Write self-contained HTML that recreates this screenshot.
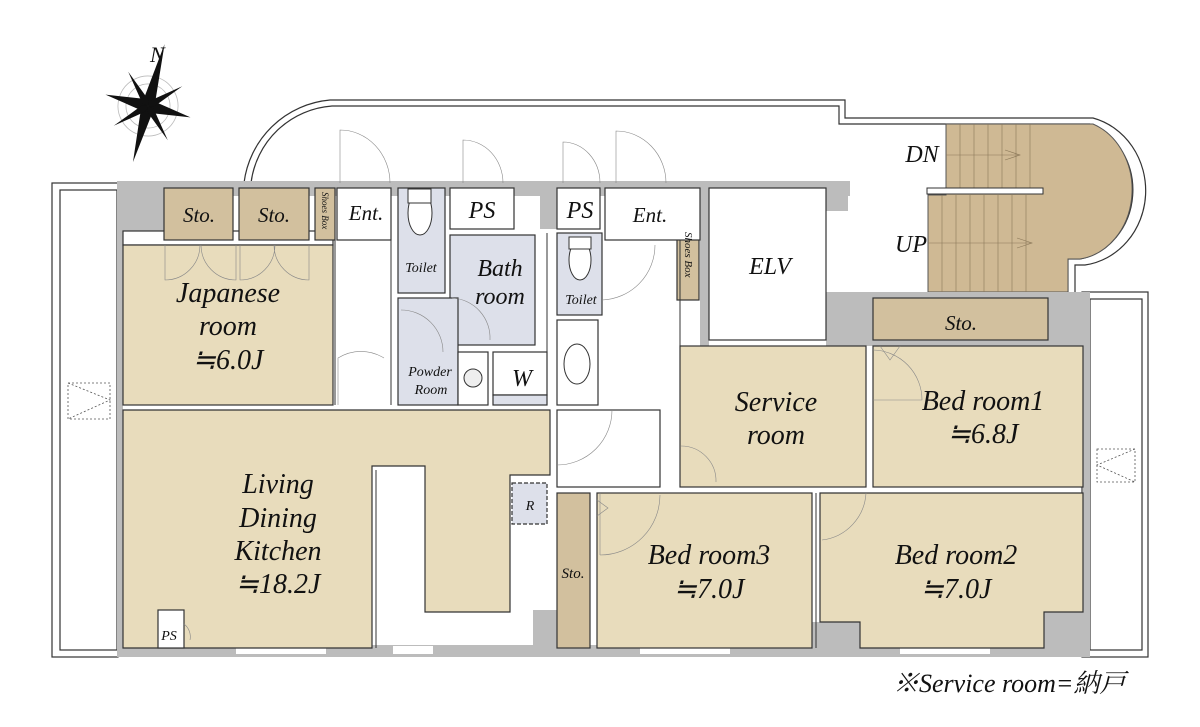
<!DOCTYPE html>
<html><head><meta charset="utf-8"><style>
html,body{margin:0;padding:0;background:#fff;}
svg{display:block;}
text{font-family:"Liberation Serif","Noto Serif CJK SC",serif;font-style:italic;fill:#111;}
</style></head><body>
<svg width="1200" height="727" viewBox="0 0 1200 727" xmlns="http://www.w3.org/2000/svg">
<g fill="none" stroke="#333" stroke-width="1.2">
<path d="M244,183 A95,95 0 0 1 330,100 L845,100 L845,118 L1093,118 A70,75 0 0 1 1085,265 L1075,265 L1075,292"/>
<path d="M251,183 A88,88 0 0 1 332,106 L839,106 L839,124 L1090,124 A64,70 0 0 1 1080,259 L1068,259 L1068,292"/>
<rect x="52" y="183" width="66" height="474"/>
<rect x="60" y="190" width="57" height="460"/>
<rect x="1082" y="292" width="66" height="365"/>
<rect x="1090" y="299" width="52" height="351"/>
</g>
<path d="M946,124 L1093,124 A60,70 0 0 1 1080,259 L1068,259 L1068,292 L928,292 L928,195 L946,195 Z" fill="#cfb994" stroke="#555" stroke-width="1"/>
<g stroke="#8a7758" stroke-width="0.6">
<line x1="960" y1="124" x2="960" y2="188"/><line x1="974" y1="124" x2="974" y2="188"/><line x1="988" y1="124" x2="988" y2="188"/><line x1="1002" y1="124" x2="1002" y2="188"/><line x1="1016" y1="124" x2="1016" y2="188"/><line x1="1030" y1="124" x2="1030" y2="188"/>
<line x1="942" y1="195" x2="942" y2="292"/><line x1="956" y1="195" x2="956" y2="292"/><line x1="970" y1="195" x2="970" y2="292"/><line x1="984" y1="195" x2="984" y2="292"/><line x1="998" y1="195" x2="998" y2="292"/><line x1="1012" y1="195" x2="1012" y2="292"/><line x1="1026" y1="195" x2="1026" y2="292"/>
<line x1="946" y1="155" x2="1020" y2="155"/><polyline points="1005,150 1020,155 1005,160" fill="none"/>
<line x1="928" y1="243" x2="1032" y2="243"/><polyline points="1017,238 1032,243 1017,248" fill="none"/>
</g>
<rect x="927" y="188" width="116" height="6" fill="#fff" stroke="#333"/>
<g fill="#bcbcbc">
<rect x="117" y="181" width="733" height="15"/>
<rect x="117" y="181" width="6" height="476"/>
<rect x="117" y="645" width="965" height="12"/>
<rect x="700" y="181" width="148" height="30"/>
<rect x="700" y="181" width="9" height="165"/>
<rect x="826" y="292" width="264" height="54"/>
<rect x="1083" y="292" width="7" height="365"/>
<rect x="117" y="181" width="48" height="50"/>
<rect x="123" y="610" width="35" height="47"/>
<rect x="533" y="610" width="24" height="47"/>
<rect x="812" y="622" width="48" height="35"/>
<rect x="1044" y="612" width="46" height="45"/>
<rect x="540" y="181" width="20" height="48"/>
</g>
<g fill="#fff"><rect x="236" y="646" width="90" height="8"/><rect x="393" y="646" width="40" height="8"/><rect x="640" y="646" width="90" height="8"/><rect x="900" y="646" width="90" height="8"/></g>
<g stroke="#333" stroke-width="1.2">
<rect x="123" y="231" width="210" height="14" fill="#fff"/>
<rect x="123" y="245" width="210" height="160" fill="#e8dcbc"/>
<path d="M123,410 L550,410 L550,475 L510,475 L510,612 L425,612 L425,466 L372,466 L372,648 L123,648 Z" fill="#e8dcbc"/>
<rect x="680" y="346" width="186" height="141" fill="#e8dcbc"/>
<rect x="873" y="346" width="210" height="141" fill="#e8dcbc"/>
<rect x="597" y="493" width="215" height="155" fill="#e8dcbc"/>
<path d="M820,493 L1083,493 L1083,612 L1044,612 L1044,648 L860,648 L860,622 L820,622 Z" fill="#e8dcbc"/>
<rect x="164" y="188" width="69" height="52" fill="#d2c09e"/>
<rect x="239" y="188" width="70" height="52" fill="#d2c09e"/>
<rect x="315" y="188" width="20" height="52" fill="#d2c09e"/>
<rect x="677" y="220" width="22" height="80" fill="#d2c09e"/>
<rect x="873" y="298" width="175" height="42" fill="#d2c09e"/>
<rect x="557" y="493" width="33" height="155" fill="#d2c09e"/>
<rect x="337" y="188" width="54" height="52" fill="#fff"/>
<rect x="450" y="188" width="64" height="41" fill="#fff"/>
<rect x="557" y="188" width="43" height="41" fill="#fff"/>
<rect x="605" y="188" width="95" height="52" fill="#fff"/>
<rect x="709" y="188" width="117" height="152" fill="#fff"/>
<rect x="398" y="188" width="47" height="105" fill="#dde0ea"/>
<rect x="450" y="235" width="85" height="110" fill="#dde0ea"/>
<rect x="398" y="298" width="60" height="107" fill="#dde0ea"/>
<rect x="458" y="352" width="30" height="53" fill="#fff"/>
<rect x="493" y="352" width="54" height="43" fill="#fff"/>
<rect x="493" y="395" width="54" height="10" fill="#dde0ea"/>
<rect x="557" y="233" width="45" height="82" fill="#dde0ea"/>
<rect x="557" y="320" width="41" height="85" fill="#fff"/>
<rect x="557" y="410" width="103" height="77" fill="#fff"/>
<rect x="512" y="483" width="35" height="41" fill="#dde0ea" stroke-dasharray="4,2"/>
<rect x="158" y="610" width="26" height="38" fill="#fff"/>
</g>
<g fill="none" stroke="#333" stroke-width="1">
<line x1="391" y1="188" x2="391" y2="405"/><line x1="335" y1="240" x2="335" y2="405"/>
<line x1="547" y1="233" x2="547" y2="405"/><line x1="550" y1="410" x2="550" y2="475"/>
<line x1="680" y1="240" x2="680" y2="346"/><line x1="605" y1="240" x2="680" y2="240"/>
<line x1="376" y1="470" x2="376" y2="648"/><line x1="590" y1="493" x2="590" y2="648"/><line x1="816" y1="493" x2="816" y2="648"/>
<ellipse cx="420" cy="213" rx="12" ry="22" fill="#fff"/><rect x="408" y="189" width="23" height="14" fill="#fff"/>
<ellipse cx="580" cy="260" rx="11" ry="20" fill="#fff"/><rect x="569" y="237" width="22" height="12" fill="#fff"/>
<circle cx="473" cy="378" r="9" fill="#eee"/>
<ellipse cx="577" cy="364" rx="13" ry="20" fill="#fff"/>
</g>
<g fill="none" stroke="#888" stroke-width="0.6">
<path d="M340,183 L340,130 A50,53 0 0 1 390,183"/><path d="M463,183 L463,140 A40,43 0 0 1 503,183"/>
<path d="M563,183 L563,142 A37,41 0 0 1 600,183"/><path d="M616,183 L616,131 A50,52 0 0 1 666,183"/>
<path d="M165,245 L165,280 A35,35 0 0 0 200,245 M236,245 L236,280 A35,35 0 0 1 201,245"/>
<path d="M240,245 L240,280 A35,35 0 0 0 275,245 M309,245 L309,280 A35,35 0 0 1 274,245"/>
<path d="M338,405 L338,358 A45,47 0 0 1 384,358"/><path d="M401,310 A42,42 0 0 1 443,352"/>
<path d="M452,298 A40,40 0 0 1 490,340"/><path d="M602,300 A55,55 0 0 0 655,245"/>
<path d="M557,465 A55,55 0 0 0 612,410"/><path d="M681,446 A35,35 0 0 1 716,482"/>
<path d="M873,350 A50,50 0 0 1 922,400 L873,400"/><path d="M600,555 L600,493 M600,555 A60,60 0 0 0 660,495"/>
<path d="M822,540 A50,50 0 0 0 866,493"/><path d="M184,624 A16,16 0 0 1 190,640"/>
<polyline points="880,346 890,360 900,346 M950,346 958,360 966,346 M970,346 978,360 986,346 M1035,346 1042,360 1049,346"/>
<polyline points="597,500 608,508 597,516 M597,565 608,573 597,581 M597,628 608,636 597,644"/>
</g>
<g fill="none" stroke="#555" stroke-width="0.8" stroke-dasharray="2,2">
<rect x="68" y="383" width="42" height="36"/><path d="M68,383 L110,400 L68,419"/>
<rect x="1097" y="449" width="38" height="33"/><path d="M1135,449 L1097,465 L1135,482"/>
</g>
<g transform="translate(148,106) rotate(15)">
<circle r="30" fill="none" stroke="#bbb" stroke-width="0.8"/>
<circle r="22" fill="none" stroke="#bbb" stroke-width="0.8"/>
<polygon points="0,-64 6,-5 0,0 -6,-5" fill="#111"/><polygon points="0,58 6,5 0,0 -6,5" fill="#111"/>
<polygon points="-44,0 -5,-6 0,0 -5,6" fill="#111"/><polygon points="44,0 5,-6 0,0 5,6" fill="#111"/>
<polygon points="-28,-28 -1,-6 0,0 -6,-1" fill="#111"/><polygon points="28,28 1,6 0,0 6,1" fill="#111"/>
<polygon points="28,-28 6,-1 0,0 1,-6" fill="#111"/><polygon points="-28,28 -6,1 0,0 -1,6" fill="#111"/>
</g>
<text x="150" y="62" font-size="22">N</text>
<g font-size="22" text-anchor="middle">
<text x="199" y="222" font-size="21">Sto.</text><text x="274" y="222" font-size="21">Sto.</text>
<text x="366" y="220" font-size="21">Ent.</text><text x="482" y="218" font-size="24">PS</text><text x="580" y="218" font-size="24">PS</text>
<text x="650" y="222" font-size="21">Ent.</text>
<text x="500" y="276" font-size="24">Bath</text><text x="500" y="304" font-size="24">room</text>
<text x="421" y="272" font-size="14">Toilet</text><text x="581" y="304" font-size="14">Toilet</text>
<text x="430" y="376" font-size="14">Powder</text><text x="431" y="394" font-size="14">Room</text>
<text x="522" y="386" font-size="24">W</text><text x="770" y="274" font-size="24">ELV</text>
<text x="961" y="330" font-size="21">Sto.</text><text x="573" y="578" font-size="15">Sto.</text>
<text x="530" y="510" font-size="14">R</text><text x="169" y="640" font-size="14">PS</text>
</g>
<text x="685" y="232" font-size="11" transform="rotate(90 685 232)">Shoes Box</text>
<text x="322" y="192" font-size="9" transform="rotate(90 322 192)">Shoes Box</text>
<text x="922" y="162" font-size="24" text-anchor="middle">DN</text>
<text x="911" y="252" font-size="24" text-anchor="middle">UP</text>
<g font-size="28" text-anchor="middle">
<text x="228" y="302">Japanese</text><text x="228" y="335">room</text><text x="228" y="369">≒6.0J</text>
<text x="278" y="493">Living</text><text x="278" y="527">Dining</text><text x="278" y="560">Kitchen</text><text x="278" y="593">≒18.2J</text>
<text x="776" y="411">Service</text><text x="776" y="444">room</text>
<text x="983" y="410">Bed room1</text><text x="983" y="443">≒6.8J</text>
<text x="709" y="564">Bed room3</text><text x="709" y="598">≒7.0J</text>
<text x="956" y="564">Bed room2</text><text x="956" y="598">≒7.0J</text>
</g>
<text x="893" y="692" font-size="26">※Service room=納戸</text>
</svg>
</body></html>
